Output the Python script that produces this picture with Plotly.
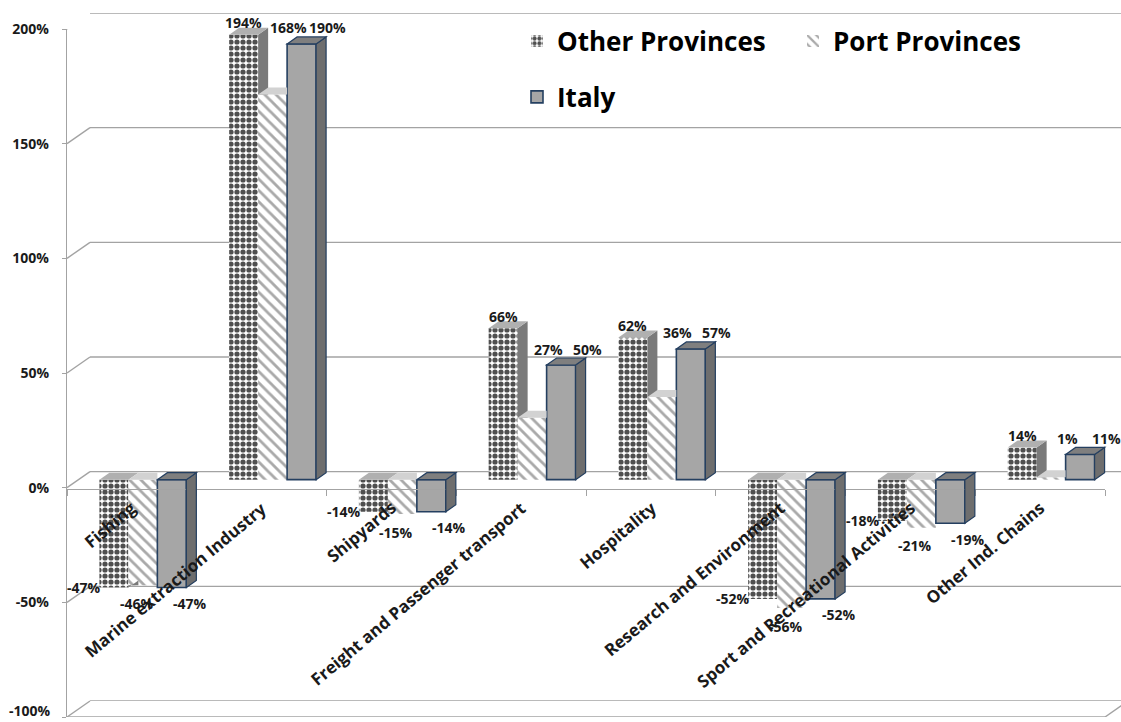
import plotly.graph_objects as go

# ---- data -------------------------------------------------------------
categories = [
    "Fishing",
    "Marine extraction Industry",
    "Shipyards",
    "Freight and Passenger transport",
    "Hospitality",
    "Research and Environment",
    "Sport and Recreational Activities",
    "Other Ind. Chains",
]
other_provinces = [-47, 194, -14, 66, 62, -52, -18, 14]
port_provinces = [-46, 168, -15, 27, 36, -56, -21, 1]
italy = [-47, 190, -14, 50, 57, -52, -19, 11]
y_ticks = [-100, -50, 0, 50, 100, 150, 200]

# ---- page geometry (pixels) ------------------------------------------
W, H = 1121, 722
FX0, FX1 = 67, 1105          # front plane, horizontal extent
FY0, FY1 = 29, 717           # front plane, vertical extent (200% .. -100%)
BAR_DX, BAR_DY = 11, -8      # bars sit half way into the depth
BACK_DX, BACK_DY = 23, -16   # back wall
YMIN, YMAX = -100, 200
N = len(categories)

PX_PER_X = (FX1 - FX0) / N
PX_PER_Y = (FY1 - FY0) / (YMAX - YMIN)
DEPTH_X = 10 / PX_PER_X      # bar depth, in axis units
DEPTH_Y = 7 / PX_PER_Y
ZERO_PX = FY0 + YMAX * PX_PER_Y   # pixel row of the 0% level on the front plane

BARGAP = 0.33
BAR_W = (1 - BARGAP) / 3


def xdom(x0, x1):
    return [max(0.0, x0 / W), min(1.0, x1 / W)]


def ydom(top, bottom):
    return [1 - bottom / H, 1 - top / H]


FONT = "Open Sans"
INK = "#1a1a1a"
GRID = "#a3a3a3"
TICK_FONT = dict(family=FONT, size=14, color=INK, weight="bold")

fig = go.Figure()

# back wall subplot
fig.add_trace(go.Scatter(x=[], y=[], xaxis="x", yaxis="y", showlegend=False,
                         hoverinfo="skip"))

xs = list(range(N))
series = [
    ("Other Provinces", other_provinces,
     dict(color="white", pattern=dict(shape=".", fgcolor="#4f4f4f", bgcolor="white",
                                      size=6, solidity=0.6, fillmode="replace"),
          line=dict(width=0)), "legend"),
    ("Port Provinces", port_provinces,
     dict(color="white", pattern=dict(shape="\\", fgcolor="#a9a9a9", bgcolor="white",
                                      size=8, solidity=0.35, fillmode="replace"),
          line=dict(width=0)), "legend"),
    ("Italy", italy,
     dict(color="#a6a6a6", line=dict(color="#243f60", width=1.6)), "legend2"),
]
for name, vals, marker, leg in series:
    fig.add_trace(go.Bar(
        x=xs, y=vals, name=name, marker=marker, legend=leg,
        xaxis="x2", yaxis="y2", hoverinfo="skip",
    ))

# front plane subplot (axes)
fig.add_trace(go.Scatter(x=[], y=[], xaxis="x3", yaxis="y3", showlegend=False,
                         hoverinfo="skip"))

shapes = []

# back wall gridlines
for v in y_ticks:
    shapes.append(dict(type="line", xref="paper", yref="y",
                       x0=(FX0 + BACK_DX) / W, x1=1, y0=v, y1=v,
                       line=dict(color=GRID, width=1.4), layer="below"))
# connectors from the front ticks to the back wall
for v in y_ticks:
    shapes.append(dict(type="line", xref="paper", yref="y3",
                       x0=FX0 / W, x1=(FX0 + BACK_DX) / W,
                       ysizemode="pixel", yanchor=v, y0=0, y1=-BACK_DY,
                       line=dict(color=GRID, width=1.4), layer="below"))
# floor front edge and its right corner
shapes.append(dict(type="line", xref="x3", yref="y3", x0=-0.5, x1=N - 0.5,
                   y0=YMIN, y1=YMIN, line=dict(color=GRID, width=1.4), layer="below"))
shapes.append(dict(type="line", xref="paper", yref="y3",
                   x0=FX1 / W, x1=(FX1 + BACK_DX) / W,
                   ysizemode="pixel", yanchor=YMIN, y0=0, y1=-BACK_DY,
                   line=dict(color=GRID, width=1.4), layer="below"))


def poly(pts, fill, line_color=None, line_width=0):
    path = "M" + " L".join(f"{x},{y}" for x, y in pts) + " Z"
    return dict(type="path", path=path, xref="x2", yref="y2", layer="above",
                fillcolor=fill,
                line=dict(color=line_color or fill, width=line_width))


offsets = [-BAR_W, 0.0, BAR_W]
h = BAR_W / 2
for i in range(N):
    o, p, it = other_provinces[i], port_provinces[i], italy[i]
    co, cp, ci = i + offsets[0], i + offsets[1], i + offsets[2]

    # Other Provinces: visible part of the side face, then the top face
    if o > 0 and o > max(p, 0):
        lo, hi = max(p, 0), o
        shapes.append(poly([(co + h, lo), (co + h + DEPTH_X, lo),
                            (co + h + DEPTH_X, hi + DEPTH_Y), (co + h, hi)], "#7a7a7a"))
    elif o < 0 and o < min(p, 0):
        lo, hi = o, min(p, 0)
        shapes.append(poly([(co + h, lo), (co + h + DEPTH_X, lo + DEPTH_Y),
                            (co + h + DEPTH_X, hi), (co + h, hi)], "#7a7a7a"))
    t = max(o, 0)
    shapes.append(poly([(co - h, t), (co - h + DEPTH_X, t + DEPTH_Y),
                        (co + h + DEPTH_X, t + DEPTH_Y), (co + h, t)], "#b0b0b0"))

    # Port Provinces: top face (the Italy bar hides the rest)
    t = max(p, 0)
    shapes.append(poly([(cp - h, t), (cp - h + DEPTH_X, t + DEPTH_Y),
                        (cp + h, t + DEPTH_Y), (cp + h, t)], "#d2d2d2"))

    # Italy: side and top faces
    top, bot = max(it, 0), min(it, 0)
    shapes.append(poly([(ci + h, bot), (ci + h + DEPTH_X, bot + DEPTH_Y),
                        (ci + h + DEPTH_X, top + DEPTH_Y), (ci + h, top)],
                       "#6e6e6e", "#243f60", 1.2))
    shapes.append(poly([(ci - h, top), (ci - h + DEPTH_X, top + DEPTH_Y),
                        (ci + h + DEPTH_X, top + DEPTH_Y), (ci + h, top)],
                       "#7f7f7f", "#243f60", 1.2))

# ---- annotations -------------------------------------------------------
annotations = []
label_font = dict(family=FONT, size=14, color=INK, weight="bold")
for i in range(N):
    o, p, it = other_provinces[i], port_provinces[i], italy[i]
    co, cp, ci = i + offsets[0], i + offsets[1], i + offsets[2]
    # Other Provinces
    if o >= 0:
        annotations.append(dict(x=co, y=o, text=f"{o}%", yanchor="middle",
                                yshift=12, xshift=0))
    else:
        annotations.append(dict(x=co - h, y=o, text=f"{o}%", xanchor="right",
                                yanchor="middle", xshift=4, yshift=0))
    # Port Provinces
    if p >= 0:
        annotations.append(dict(x=cp, y=max(p, it), text=f"{p}%", yanchor="middle",
                                yshift=16, xshift=16))
    else:
        annotations.append(dict(x=cp, y=p, text=f"{p}%", yanchor="middle",
                                yshift=-18, xshift=-6))
    # Italy
    if it >= 0:
        annotations.append(dict(x=ci, y=it, text=f"{it}%", yanchor="middle",
                                yshift=16, xshift=26))
    else:
        annotations.append(dict(x=ci, y=it, text=f"{it}%", yanchor="middle",
                                yshift=-16, xshift=18))
for a in annotations:
    a.update(xref="x2", yref="y2", showarrow=False, font=label_font)

for i, name in enumerate(categories):
    annotations.append(dict(
        x=i, y=0, xref="x3", yref="y3", text=name, showarrow=False,
        textangle=-40, xanchor="right", yanchor="top", xshift=12, yshift=-6,
        font=dict(family=FONT, size=17, color=INK, weight="bold"),
    ))

# the lowest value label sits on the page edge; keep it inside the page
annotations.append(dict(
    x=(FX0 - 14) / W, y=YMIN, xref="paper", yref="y3", text=f"{YMIN}%",
    showarrow=False, xanchor="right", yanchor="bottom", yshift=-(H - FY1),
    font=TICK_FONT,
))

# ---- layout ------------------------------------------------------------
hidden = dict(visible=False, range=[-0.5, N - 0.5], fixedrange=True)
fig.update_layout(
    width=W, height=H, autosize=False,
    margin=dict(l=0, r=0, t=0, b=0, autoexpand=False),
    paper_bgcolor="white", plot_bgcolor="rgba(0,0,0,0)",
    barmode="group", bargap=BARGAP, bargroupgap=0,
    font=dict(family=FONT, color=INK),
    # back wall
    xaxis=dict(hidden, domain=xdom(FX0 + BACK_DX, FX1 + BACK_DX), anchor="y"),
    yaxis=dict(domain=ydom(FY0 + BACK_DY, FY1 + BACK_DY), range=[YMIN, YMAX],
               anchor="x", visible=False, fixedrange=True),
    # bars
    xaxis2=dict(hidden, domain=xdom(FX0 + BAR_DX, FX1 + BAR_DX), anchor="y2"),
    yaxis2=dict(domain=ydom(FY0 + BAR_DY, FY1 + BAR_DY), range=[YMIN, YMAX],
                anchor="x2", visible=False, fixedrange=True),
    # front plane: value axis and category axis at 0%
    xaxis3=dict(domain=xdom(FX0, FX1), range=[-0.5, N - 0.5], anchor="free",
                position=1 - (ZERO_PX + 1) / H, showline=True, linecolor=GRID,
                linewidth=1.4,
                tickvals=[k - 0.5 for k in range(N + 1)], ticks="outside",
                ticklen=6, tickcolor=GRID, showticklabels=False, showgrid=False,
                zeroline=False, fixedrange=True),
    yaxis3=dict(domain=ydom(FY0, FY1), range=[YMIN, YMAX], anchor="x3",
                tickvals=y_ticks,
                ticktext=["" if v == YMIN else f"{v}%" for v in y_ticks],
                ticks="outside", ticklen=4, tickcolor=GRID, ticklabelstandoff=10,
                showline=True, linecolor=GRID, linewidth=1.4, showgrid=False,
                zeroline=False, fixedrange=True, automargin=False,
                tickfont=TICK_FONT),
    legend=dict(orientation="h", x=517 / W, xanchor="left", y=1 - 41 / H,
                yanchor="middle", entrywidth=231, entrywidthmode="pixels",
                bgcolor="rgba(0,0,0,0)", borderwidth=0,
                font=dict(family=FONT, size=26, color="black", weight="bold")),
    legend2=dict(orientation="h", x=517 / W, xanchor="left", y=1 - 97 / H,
                 yanchor="middle", bgcolor="rgba(0,0,0,0)", borderwidth=0,
                 font=dict(family=FONT, size=26, color="black", weight="bold")),
    shapes=shapes,
    annotations=annotations,
)

fig.write_html("out.html")
